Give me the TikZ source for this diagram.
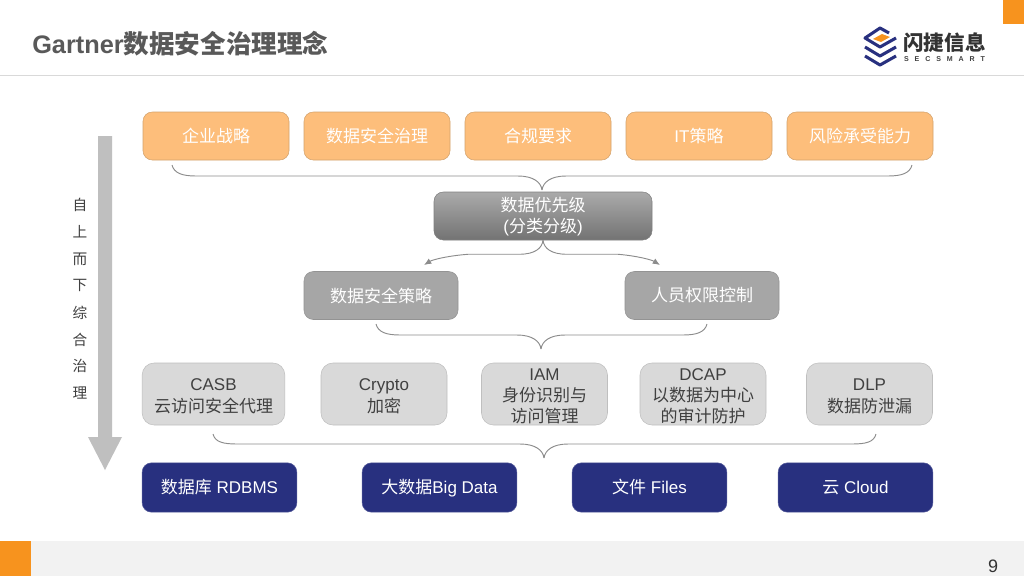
\documentclass[tikz,border=0pt]{standalone}
\usepackage{fontspec}
\setmainfont{Liberation Sans}
\newfontfamily\cjk{Noto Sans CJK SC}
\newfontfamily\lat{Liberation Sans}
\usepackage{tikz}
\usetikzlibrary{calc}
\usetikzlibrary{arrows.meta}
\definecolor{orangebar}{HTML}{F7931E}
\definecolor{orangefill}{HTML}{FDBE7B}
\definecolor{orangeline}{HTML}{D3A26C}
\definecolor{midgray}{HTML}{A6A6A6}
\definecolor{lightgray}{HTML}{D9D9D9}
\definecolor{navybox}{HTML}{28307F}
\definecolor{bracegray}{HTML}{8C8C8C}
\definecolor{titlegray}{HTML}{595959}
\tikzset{
  box/.style={rounded corners=7pt,inner sep=0pt,align=center,font=\fontsize{12.75}{15.9}\selectfont\cjk},
  orangebox/.style={box,draw=orangeline,fill=orangefill,text=white,minimum width=109.5pt,minimum height=36pt},
  graybox/.style={box,draw=gray!85,fill=midgray,text=white,minimum width=115.5pt,minimum height=36pt},
  prioritybox/.style={box,draw=gray,top color=midgray!95!white,bottom color=gray!90!black,text=white,minimum width=163.5pt,minimum height=36pt},
  lightbox/.style={box,draw=gray!50,fill=lightgray,text=black!75,minimum height=46.5pt,rounded corners=9pt},
  bluebox/.style={box,draw=navybox!80,fill=navybox,text=white,minimum width=116pt,minimum height=37pt,text height=12.2pt,text depth=2.6pt},
  bracket/.style={draw=bracegray,line width=0.7pt},
  sideword/.style={font=\fontsize{11}{11}\selectfont\cjk,text=black!75},
  logoline/.style={navybox,line width=2.3pt,line join=round},
}
\newcommand{\topgap}{\rule{0pt}{12.2pt}}
% curly bracket: left end, right end, tip
\newcommand{\drawbrace}[3]{
  \coordinate (bl) at ($(#1)+(24,0)$);
  \coordinate (br) at ($(#2)+(-24,0)$);
  \coordinate (bt) at ($(#3)+(0,-14)$);
  \draw[bracket] (#1) .. controls ($(#1)+(2,8)$) and ($(bl |- bt)+(-14,0)$) .. (bl |- bt)
    -- ($(bt)+(-24,0)$) .. controls ($(bt)+(-9,0)$) and ($(#3)+(-1,-8)$) .. (#3);
  \draw[bracket] (#2) .. controls ($(#2)+(-2,8)$) and ($(br |- bt)+(14,0)$) .. (br |- bt)
    -- ($(bt)+(24,0)$) .. controls ($(bt)+(9,0)$) and ($(#3)+(1,-8)$) .. (#3);
}
\begin{document}
\begin{tikzpicture}[x=0.75pt,y=-0.75pt]
  \useasboundingbox (0,0) rectangle (1024,576);
  % page furniture
  \fill[white] (0,0) rectangle (1024,576);
  \draw[lightgray,line width=0.75pt] (0,75) -- (1024,75);
  \fill[orangebar] (1003,0) rectangle (1024,24);
  \fill[black!5] (0,541) rectangle (1024,576);
  \fill[orangebar] (0,541) rectangle (31,576);
  \node[anchor=west,inner sep=0pt,text=titlegray,font=\fontsize{19}{19}\selectfont\bfseries] (title) at (32,44)
    {Gartner{\fontsize{19.2}{19}\selectfont\cjk 数据安全治理理念}};
  \node[inner sep=0pt,text=black!80,font=\fontsize{13.5}{13.5}\selectfont] (pagenum) at (993,566) {9};
  % logo
  \draw[logoline] (889,33) -- (880,28) -- (865,38) -- (880,47) -- (896,38);
  \foreach \dy in {9,18}{
    \draw[logoline] (865,{38+\dy}) -- (880,{47+\dy}) -- (896,{38+\dy});
  }
  \fill[orangebar] (873,39) -- (882,34) -- (890,37) -- (881,42) -- cycle;
  \node[inner sep=0pt,text=black!80,font=\fontsize{15.4}{15.4}\selectfont\bfseries\cjk] (logotext) at (944.5,43) {闪捷信息};
  \node[inner sep=0pt,text=black!75,font=\fontsize{5.3}{5.3}\selectfont\bfseries] (logosub) at (944.5,59.5)
    {S\hspace{4.4pt}E\hspace{4.4pt}C\hspace{4.4pt}S\hspace{4.4pt}M\hspace{4.4pt}A\hspace{4.4pt}R\hspace{4.4pt}T};
  % side arrow
  \fill[black!25] (98,136) -- (112,136) -- (112,437) -- (122,437) -- (105,470) -- (88,437) -- (98,437) -- cycle;
  \foreach \ch [count=\i from 0] in {自,上,而,下,综,合,治,理}{
    \node[sideword] (side\i) at (80,{205+\i*26.9}) {\ch};
  }
  % top row
  \foreach \name/\xc/\txt in {strategy/216/企业战略,governance/377/数据安全治理,compliance/538/合规要求,itpolicy/699/{\lat IT}策略,risk/860/风险承受能力}{
    \node[orangebox] (\name) at (\xc,136) {\txt};
  }
  \node[prioritybox] (priority) at (543,216) {\topgap 数据优先级\\{\lat (}分类分级{\lat )}};
  \node[graybox] (policy) at (381,295.5) {数据安全策略};
  \node[graybox] (access) at (702,295.5) {人员权限控制};
  % tools row
  \node[lightbox,minimum width=107pt] (casb) at (213.5,394) {\topgap{\lat CASB}\\云访问安全代理};
  \node[lightbox,minimum width=94.5pt] (crypto) at (384,394) {\topgap{\lat Crypto}\\加密};
  \node[lightbox,minimum width=94.5pt] (iam) at (544.5,394) {\topgap{\lat IAM}\\身份识别与\\访问管理};
  \node[lightbox,minimum width=94.5pt] (dcap) at (703,394) {\topgap{\lat DCAP}\\以数据为中心\\的审计防护};
  \node[lightbox,minimum width=94.5pt] (dlp) at (869.5,394) {\topgap{\lat DLP}\\数据防泄漏};
  % data row
  \node[bluebox] (rdbms) at (219.5,487.5) {数据库{\lat\ RDBMS}};
  \node[bluebox] (bigdata) at (439.5,487.5) {大数据{\lat Big Data}};
  \node[bluebox] (files) at (649.5,487.5) {文件{\lat\ Files}};
  \node[bluebox] (cloud) at (855.5,487.5) {云{\lat\ Cloud}};
  % braces
  \coordinate (ba) at (172,165);
  \coordinate (bb) at (912,165);
  \coordinate (bc) at (542,190);
  \drawbrace{ba}{bb}{bc}
  \coordinate (ca) at (376,324);
  \coordinate (cb) at (707,324);
  \coordinate (cc) at (541,349);
  \drawbrace{ca}{cb}{cc}
  \coordinate (da) at (213,434);
  \coordinate (db) at (876,434);
  \coordinate (dc) at (544,458);
  \drawbrace{da}{db}{dc}
  % split arrows
  \coordinate (sp) at (priority.south);
  \coordinate (la) at (424,265);
  \coordinate (ra) at (660,265);
  \draw[bracket,-{Latex[length=5.5pt,width=4.5pt]}] (sp) .. controls ($(sp)+(-1,8)$) and ($(sp)+(-8,14)$) .. ($(sp)+(-24,14)$)
    -- ($(sp)+(-75,14)$) .. controls ($(la)+(22,-9)$) and ($(la)+(8,-5)$) .. (la);
  \draw[bracket,-{Latex[length=5.5pt,width=4.5pt]}] (sp) .. controls ($(sp)+(1,8)$) and ($(sp)+(8,14)$) .. ($(sp)+(24,14)$)
    -- ($(sp)+(75,14)$) .. controls ($(ra)+(-22,-9)$) and ($(ra)+(-8,-5)$) .. (ra);
\end{tikzpicture}
\end{document}
